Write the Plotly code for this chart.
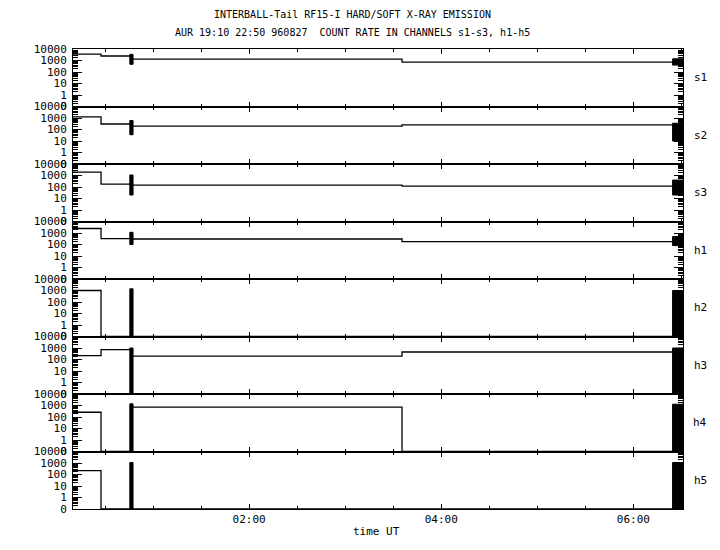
import numpy as np
import plotly.graph_objects as go
from plotly.subplots import make_subplots

# ----------------------- Data -----------------------
day = '1996-08-27 '
channels = ['s1', 's2', 's3', 'h1', 'h2', 'h3', 'h4', 'h5']

# step breakpoints (UT) and count rate at each step
step_times = ['00:10:00', '00:27:30', '00:46:00', '03:35:30', '06:31:00']
s1 = [3600, 2450, 1300, 720, 720]
s2 = [1250, 300, 200, 250, 250]
s3 = [2000, 180, 145, 120, 120]
h1 = [2450, 320, 300, 180, 180]
h2 = [1000, 0, 0, 0, 0]
h3 = [215, 720, 200, 450, 450]
h4 = [260, 0, 720, 0, 0]
h5 = [215, 0, 0, 0, 0]
rates = [s1, s2, s3, h1, h2, h3, h4, h5]

# short noisy bursts: start, end, min and max count rate per channel
burst1_times = ['00:45:30', '00:47:30']
burst1_low = [470, 35, 20, 100, 0, 0, 0, 0]
burst1_high = [3400, 600, 1100, 1150, 1400, 1000, 1400, 1100]

burst2_times = ['06:24:30', '06:31:00']
burst2_low = [400, 10, 20, 80, 0, 0, 0, 0]
burst2_high = [1400, 350, 400, 500, 1000, 1000, 1300, 1100]

ytick_vals = [0, 1, 10, 100, 1000, 10000]
ytick_text = ['0', '1', '10', '100', '1000', '10000']


def tr(v):
    # log scale where zero counts sit one decade below 1
    v = np.asarray(v, dtype=float)
    return np.where(v > 0, np.log10(np.where(v > 0, v, 1)), -1.0)


FONT = 'DejaVu Sans Mono'

fig = make_subplots(rows=8, cols=1, shared_xaxes=True, vertical_spacing=0)

for i, (name, vals) in enumerate(zip(channels, rates)):
    r = i + 1
    fig.add_trace(go.Scatter(
        x=[day + t for t in step_times], y=tr(vals), mode='lines',
        line=dict(color='black', width=1.3, shape='hv'), showlegend=False),
        row=r, col=1)
    for bt, lo, hi in [(burst1_times, burst1_low[i], burst1_high[i]),
                       (burst2_times, burst2_low[i], burst2_high[i])]:
        bx = [day + bt[0], day + bt[1], day + bt[1], day + bt[0], day + bt[0]]
        by = tr([lo, lo, hi, hi, lo])
        fig.add_trace(go.Scatter(
            x=bx, y=by, mode='lines', fill='toself', fillcolor='black',
            line=dict(color='black', width=1), showlegend=False),
            row=r, col=1)

    dom = 'y domain' if r == 1 else 'y%d domain' % r
    fig.add_annotation(text=name, xref='paper', yref=dom, x=1.028, y=0.5,
                       xanchor='center', yanchor='middle', showarrow=False,
                       font=dict(family=FONT, size=11, color='black'))

# log minor ticks
minor_vals = [np.log10(k * 10.0 ** d) for d in range(-1, 4) for k in range(2, 10)]

fig.update_yaxes(range=[-1, 4], tickmode='array', tickvals=list(tr(ytick_vals)),
                 ticktext=ytick_text, ticks='inside', ticklen=9, tickcolor='black',
                 showline=True, linecolor='black', linewidth=1, mirror='ticks',
                 showgrid=False, zeroline=False, automargin=False,
                 ticklabelstandoff=3,
                 tickfont=dict(family=FONT, size=11, color='black'),
                 minor=dict(tickmode='array', tickvals=minor_vals, ticks='inside',
                            ticklen=5, tickcolor='black', showgrid=False))

fig.update_xaxes(range=[day + '00:10:00', day + '06:31:00'], type='date',
                 tick0=day + '00:00:00', dtick=7200000, tickformat='%H:%M',
                 ticks='inside', ticklen=5, tickcolor='black',
                 showline=True, linecolor='black', linewidth=1, mirror='ticks',
                 showgrid=False, zeroline=False, automargin=False,
                 tickfont=dict(family=FONT, size=11, color='black'),
                 minor=dict(dtick=1800000, ticks='inside', ticklen=3,
                            tickcolor='black', showgrid=False))

fig.add_annotation(text='INTERBALL-Tail RF15-I HARD/SOFT X-RAY EMISSION',
                   xref='paper', yref='paper', x=0.459, y=1.076, showarrow=False,
                   xanchor='center', yanchor='middle',
                   font=dict(family=FONT, size=10, color='black'))
fig.add_annotation(text='AUR 19:10 22:50 960827  COUNT RATE IN CHANNELS s1-s3, h1-h5',
                   xref='paper', yref='paper', x=0.459, y=1.035, showarrow=False,
                   xanchor='center', yanchor='middle',
                   font=dict(family=FONT, size=10, color='black'))
fig.add_annotation(text='time UT', xref='paper', yref='paper', x=0.498, y=-0.048,
                   showarrow=False, xanchor='center', yanchor='middle',
                   font=dict(family=FONT, size=11, color='black'))

# page body adds 8px offset, so margins are trimmed to keep the plot in place
fig.update_layout(width=720, height=550, paper_bgcolor='white', plot_bgcolor='white',
                  margin=dict(l=65, r=45, t=41, b=49, autoexpand=False))

fig.write_html('out.html')
